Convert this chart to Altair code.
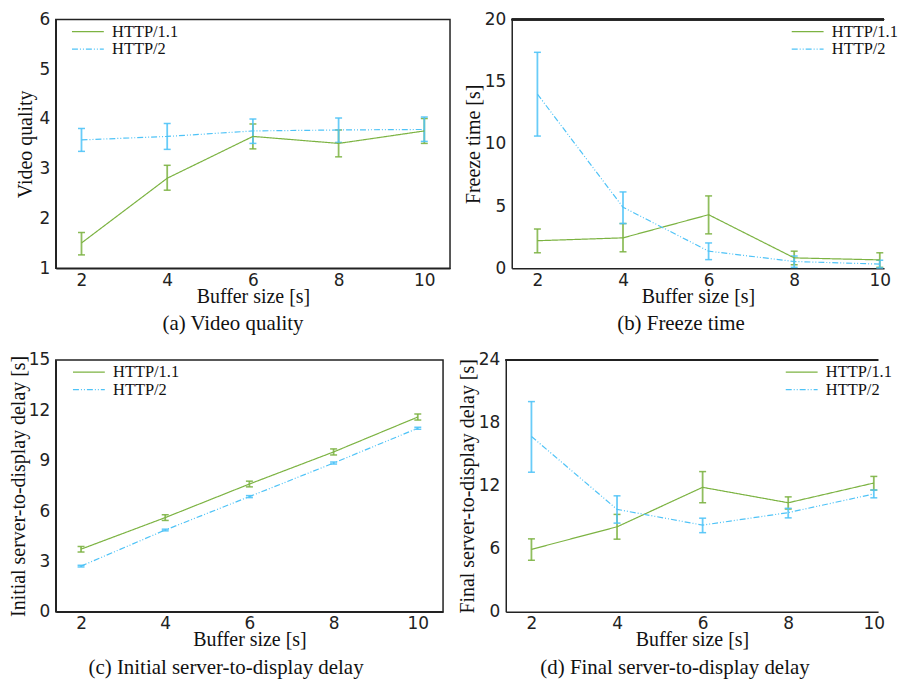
import altair as alt
import pandas as pd

buffer_sizes = [2, 4, 6, 8, 10]
series_names = ["HTTP/1.1", "HTTP/2"]
series_colors = ["#7cb342", "#4fc3f7"]

# (a) Video quality
quality_h1 = [1.51, 2.81, 3.65, 3.51, 3.76]
quality_h1_lo = [1.27, 2.57, 3.40, 3.24, 3.51]
quality_h1_hi = [1.72, 3.07, 3.90, 3.78, 4.01]
quality_h2 = [3.58, 3.65, 3.76, 3.78, 3.79]
quality_h2_lo = [3.35, 3.39, 3.51, 3.53, 3.55]
quality_h2_hi = [3.81, 3.91, 4.00, 4.02, 4.04]

# (b) Freeze time
freeze_h1 = [2.22, 2.45, 4.31, 0.84, 0.68]
freeze_h1_lo = [1.25, 1.33, 2.77, 0.29, 0.08]
freeze_h1_hi = [3.16, 3.60, 5.82, 1.38, 1.25]
freeze_h2 = [14.0, 4.91, 1.38, 0.55, 0.34]
freeze_h2_lo = [10.63, 3.60, 0.70, 0.08, 0.03]
freeze_h2_hi = [17.36, 6.14, 2.04, 0.99, 0.65]

# (c) Initial server-to-display delay
initial_h1 = [3.73, 5.61, 7.61, 9.52, 11.60]
initial_h1_lo = [3.56, 5.44, 7.44, 9.34, 11.42]
initial_h1_hi = [3.89, 5.78, 7.78, 9.70, 11.78]
initial_h2 = [2.72, 4.87, 6.86, 8.86, 10.93]
initial_h2_lo = [2.67, 4.82, 6.80, 8.80, 10.87]
initial_h2_hi = [2.77, 4.92, 6.92, 8.92, 10.99]

# (d) Final server-to-display delay
final_h1 = [5.95, 8.10, 11.86, 10.39, 12.27]
final_h1_lo = [4.91, 6.92, 10.39, 9.79, 11.60]
final_h1_hi = [6.95, 9.28, 13.36, 10.95, 12.90]
final_h2 = [16.71, 9.76, 8.26, 9.45, 11.23]
final_h2_lo = [13.30, 8.45, 7.54, 8.95, 10.86]
final_h2_hi = [20.03, 11.05, 8.92, 9.86, 11.60]

SERIF = "Liberation Serif"
SANS = "DejaVu Sans"


def make_df(m1, l1, h1, m2, l2, h2):
    rows = []
    for name, m, lo, hi in [(series_names[0], m1, l1, h1), (series_names[1], m2, l2, h2)]:
        for x, a, b, c in zip(buffer_sizes, m, lo, hi):
            rows.append({"buffer": x, "proto": name, "mean": a, "lo": b, "hi": c})
    return pd.DataFrame(rows)


def panel(df, ytitle, caption, ydomain, yticks, width, height, xmax, legend_x, extent, framed):
    xscale = alt.Scale(domain=[1.4, xmax], nice=False, zero=False)
    yscale = alt.Scale(domain=ydomain, nice=False, zero=False)
    xenc = alt.X("buffer:Q", scale=xscale,
                 axis=alt.Axis(values=buffer_sizes, title="Buffer size [s]", format="d"))
    yenc = alt.Y("mean:Q", scale=yscale,
                 axis=alt.Axis(values=yticks, title=ytitle, format="d",
                               minExtent=extent, maxExtent=extent))
    base = alt.Chart(df)
    leg = alt.Legend(title=None, orient="none", legendX=legend_x, legendY=4)
    lines = base.mark_line(strokeWidth=1.2).encode(
        x=xenc,
        y=yenc,
        color=alt.Color("proto:N", scale=alt.Scale(domain=series_names, range=series_colors), legend=leg),
        strokeDash=alt.StrokeDash("proto:N",
                                  scale=alt.Scale(domain=series_names, range=[[1, 0], [6, 2, 1, 2, 1, 2]]),
                                  legend=leg),
    )
    layers = []
    for name, col in zip(series_names, series_colors):
        sub = base.transform_filter(alt.datum.proto == name)
        rule = sub.mark_rule(strokeWidth=1.8, color=col, opacity=0.85).encode(
            x="buffer:Q", y="lo:Q", y2="hi:Q")
        cap_lo = sub.mark_tick(orient="horizontal", size=7, thickness=1.5, color=col, opacity=0.9).encode(
            x="buffer:Q", y="lo:Q")
        cap_hi = sub.mark_tick(orient="horizontal", size=7, thickness=1.5, color=col, opacity=0.9).encode(
            x="buffer:Q", y="hi:Q")
        layers += [rule, cap_lo, cap_hi]
    all_layers = layers + [lines]
    if not framed:
        top = alt.Chart(df).mark_rule(color="#222", strokeWidth=1.5).encode(
            x=alt.value(0), x2=alt.value(width), y=alt.value(0))
        all_layers.append(top)
    ch = alt.layer(*all_layers).properties(
        width=width, height=height,
        title=alt.TitleParams(caption, orient="bottom", frame="bounds", anchor="middle",
                              font=SERIF, fontSize=21, fontWeight="normal", color="#111", offset=7),
    )
    if framed:
        ch = ch.properties(view=alt.ViewBackground(stroke="#222", strokeWidth=1.5))
    else:
        ch = ch.properties(view=alt.ViewBackground(stroke=None))
    return ch


df_a = make_df(quality_h1, quality_h1_lo, quality_h1_hi, quality_h2, quality_h2_lo, quality_h2_hi)
df_b = make_df(freeze_h1, freeze_h1_lo, freeze_h1_hi, freeze_h2, freeze_h2_lo, freeze_h2_hi)
df_c = make_df(initial_h1, initial_h1_lo, initial_h1_hi, initial_h2, initial_h2_lo, initial_h2_hi)
df_d = make_df(final_h1, final_h1_lo, final_h1_hi, final_h2, final_h2_lo, final_h2_hi)

pa = panel(df_a, "Video quality", "(a) Video quality", [1, 6], [1, 2, 3, 4, 5, 6],
           396, 250, 10.6, 24, 20, True)
pb = panel(df_b, "Freeze time [s]", "(b) Freeze time", [0, 20], [0, 5, 10, 15, 20],
           374, 250, 10.1, 289, 28, False)
pc = panel(df_c, "Initial server-to-display delay [s]", "(c) Initial server-to-display delay", [0, 15],
           [0, 3, 6, 9, 12, 15], 389, 253, 10.6, 25, 27, True)
pd_ = panel(df_d, "Final server-to-display delay [s]", "(d) Final server-to-display delay", [0, 24],
            [0, 6, 12, 18, 24], 374, 253, 10.1, 289, 28, False)

row1 = alt.hconcat(pa, pb, spacing=13).resolve_scale(color="independent", strokeDash="independent")
row2 = alt.hconcat(pc, pd_, spacing=13).resolve_scale(color="independent", strokeDash="independent")

chart = alt.vconcat(row1, row2, spacing=15).resolve_scale(
    color="independent", strokeDash="independent"
).properties(
    padding={"left": 0, "top": 0, "right": 0, "bottom": 0},
).configure_axis(
    labelFont=SANS, labelFontSize=17, labelColor="#222",
    titleFont=SERIF, titleFontSize=20, titleFontWeight="normal", titleColor="#111",
    ticks=False, grid=False, domainColor="#222", domainWidth=1.5,
).configure_axisX(labelPadding=4, titlePadding=-2).configure_axisY(labelPadding=6, titlePadding=0).configure_legend(
    labelFont=SERIF, labelFontSize=16.5, labelColor="#111", symbolType="M-4,0H4",
    symbolSize=64, symbolStrokeWidth=1.2, labelOffset=16, rowPadding=0.5, padding=0,
).configure_view(stroke="#222", strokeWidth=1.5)

chart.save("out.html", embed_options={"renderer": "svg", "actions": False})
